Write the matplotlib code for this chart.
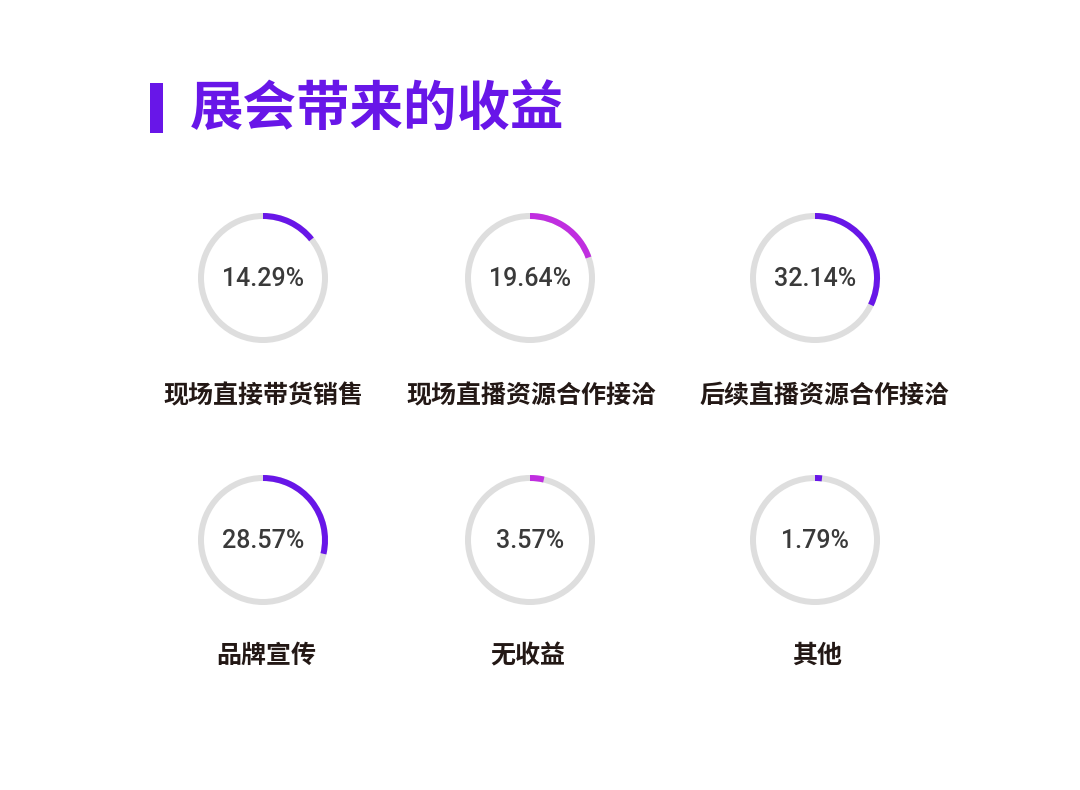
import matplotlib
matplotlib.use('Agg')
import matplotlib.pyplot as plt
from matplotlib.patches import Wedge, Rectangle

# ============================================
# DATOS
# ============================================
labels = ['现场直接带货销售', '现场直播资源合作接洽', '后续直播资源合作接洽',
          '品牌宣传', '无收益', '其他']
values = [14.29, 19.64, 32.14, 28.57, 3.57, 1.79]
colors = ['#6816e8', '#c02ee0', '#6816e8', '#6816e8', '#c02ee0', '#6816e8']
title = '展会带来的收益'

# ============================================
# DISEÑO (pixeles)
# ============================================
W, H = 1080, 790
col_x = [263, 530, 815]
row_y = [278, 540]
label_x = [263, 531, 824, 266, 528, 817]
label_y = [396, 656]
R = 65
RING_W = 6

plt.rcParams['font.family'] = ['Noto Sans CJK SC', 'DejaVu Sans']

fig = plt.figure(figsize=(W / 100, H / 100), dpi=100)
ax = fig.add_axes([0, 0, 1, 1])
ax.set_xlim(0, W)
ax.set_ylim(H, 0)
ax.set_aspect('equal')
ax.axis('off')

# Titulo con barra lateral
ax.add_patch(Rectangle((150, 83), 13, 50, color='#6816e8', lw=0))
ax.text(190, 109, title, fontsize=38.5, fontweight='bold', color='#6816e8',
        ha='left', va='center')

for i, (lab, val, c) in enumerate(zip(labels, values, colors)):
    cx = col_x[i % 3]
    cy = row_y[i // 3]
    # anillo gris de fondo
    ax.add_patch(Wedge((cx, cy), R, 0, 360, width=RING_W, color='#dedede', lw=0))
    # arco de valor, desde arriba en sentido horario (eje y invertido)
    ang = 360 * val / 100
    ax.add_patch(Wedge((cx, cy), R, 270, 270 + ang, width=RING_W, color=c, lw=0))
    ax.text(cx, cy + 1, f'{val:.2f}%', fontsize=18, color='#3a3a3a',
            family='Roboto', fontweight='medium', ha='center', va='center')
    ax.text(label_x[i], label_y[i // 3], lab, fontsize=18, fontweight='bold',
            color='#231815', ha='center', va='center')

fig.savefig('out.png', dpi=100, facecolor='white')
